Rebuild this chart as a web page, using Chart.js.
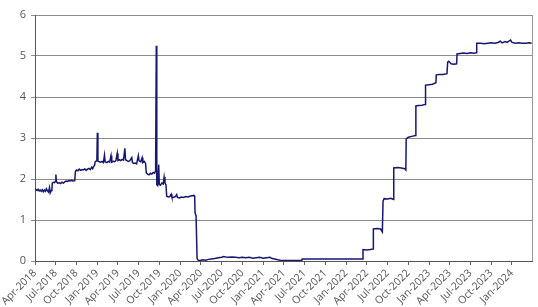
<!doctype html>
<html lang="en">
<head>
  <meta charset="utf-8">
  <title>Rate chart</title>
  <style>
    html, body { margin: 0; padding: 0; background: #fff; }
    #chart { display: block; }
  </style>
</head>
<body>
  <canvas id="chart" width="538" height="307"></canvas>

  <script src="https://cdn.jsdelivr.net/npm/chart.js"></script>
  <script>
    // x values are months counted from Apr-2018 (0 = 1 Apr 2018)
    const months = [
      0, 0.15, 0.3, 0.45, 0.6, 0.75, 0.9, 1.05, 1.2, 1.35, 1.5, 1.65, 1.8, 1.95, 2.1, 2.2, 2.35, 2.45,
      2.5, 2.65, 2.8, 2.95, 3.02, 3.1, 3.3, 3.5, 3.7, 3.9, 4.1, 4.3, 4.5, 4.7, 4.9, 5.1, 5.3, 5.5, 5.75,
      5.85, 6.0, 6.2, 6.4, 6.6, 6.8, 7.0, 7.2, 7.4, 7.6, 7.8, 8.0, 8.2, 8.35, 8.5, 8.62,
      8.7, 8.85, 8.95, 9.02, 9.1, 9.3, 9.5, 9.7, 9.9, 10.05, 10.15, 10.4, 10.6, 10.8, 11.0, 11.1,
      11.3, 11.5, 11.7, 11.9, 12.0, 12.2, 12.4, 12.6, 12.8, 13.0, 13.1, 13.3, 13.5, 13.7, 14.0, 14.1,
      14.3, 14.5, 14.7, 14.95, 15.05, 15.3, 15.5, 15.6, 15.8, 16.0,
      16.1, 16.3, 16.5, 16.7, 16.9, 17.1, 17.3, 17.45, 17.55, 17.62, 17.75, 17.9, 17.98, 18.15, 18.35,
      18.55, 18.68, 18.8, 18.95,
      19.05, 19.3, 19.5, 19.7, 19.8, 20.0, 20.3, 20.5, 20.6, 20.9, 21.2, 21.5, 21.8, 22.1, 22.4, 22.7,
      23.0, 23.1, 23.15, 23.3,
      23.45, 23.6, 23.9, 24.3, 24.7, 25.1, 25.5, 26.0, 26.5, 27.0, 27.3, 27.6, 28.0, 28.5, 29.0, 29.5,
      30.0, 30.5, 31.0, 31.5, 32.0, 32.5, 33.0, 33.5, 34.0, 34.3, 34.7, 35.1, 35.5, 36.0, 37.0, 38.0, 38.6,
      38.65, 40.0, 42.0, 44.0, 46.0, 47.4,
      47.45, 48.0, 48.5, 48.9, 48.95, 49.5, 50.0, 50.25,
      50.35, 50.5, 51.0, 51.5, 51.85, 51.9, 52.5, 53.0, 53.5, 53.65,
      53.7, 54.0, 54.5, 55.05, 55.1, 55.5, 56.0, 56.45, 56.5, 57.0, 57.5, 58.0,
      58.05, 58.5, 59.0, 59.6, 59.7, 59.85, 60.2, 60.6, 61.0,
      61.05, 61.5, 62.0, 62.5, 63.0, 63.5, 63.85,
      63.9, 64.5, 65.0, 65.5, 66.0, 66.5, 67.0, 67.3, 67.6, 68.0, 68.3, 68.8, 69.0, 69.5, 70.0, 70.5,
      71.0, 71.5, 71.85
    ];

    const rates = [
      1.77, 1.74, 1.72, 1.75, 1.71, 1.73, 1.70, 1.74, 1.69, 1.73, 1.70, 1.76, 1.71, 1.68, 1.79, 1.66, 1.72, 1.75,
      1.90, 1.92, 1.91, 1.94, 2.11, 1.93, 1.90, 1.91, 1.89, 1.92, 1.90, 1.93, 1.95, 1.94, 1.96, 1.95, 1.97, 1.95, 1.96,
      2.19, 2.22, 2.20, 2.24, 2.21, 2.23, 2.22, 2.25, 2.21, 2.24, 2.26, 2.23, 2.29, 2.25, 2.31, 2.33,
      2.42, 2.44, 2.45, 3.13, 2.44, 2.42, 2.41, 2.43, 2.40, 2.58, 2.42, 2.40, 2.43, 2.41, 2.57, 2.41,
      2.43, 2.42, 2.45, 2.63, 2.45, 2.47, 2.45, 2.48, 2.46, 2.75, 2.47, 2.45, 2.43, 2.44, 2.52, 2.40,
      2.38, 2.39, 2.37, 2.57, 2.45, 2.42, 2.52, 2.40, 2.43, 2.38,
      2.15, 2.12, 2.10, 2.14, 2.12, 2.16, 2.14, 2.20, 5.25, 1.86, 1.84, 2.35, 1.87, 1.85, 1.90,
      1.88, 2.05, 1.90, 1.86,
      1.58, 1.56, 1.57, 1.63, 1.56, 1.55, 1.57, 1.62, 1.55, 1.54, 1.56, 1.55, 1.57, 1.56, 1.58, 1.59,
      1.60, 1.58, 1.18, 1.10,
      0.06, 0.02, 0.01, 0.03, 0.02, 0.04, 0.05, 0.06, 0.08, 0.09, 0.11, 0.10, 0.09, 0.10, 0.09, 0.08,
      0.09, 0.08, 0.09, 0.07, 0.08, 0.09, 0.07, 0.08, 0.09, 0.06, 0.05, 0.03, 0.02, 0.01, 0.01, 0.01, 0.01,
      0.05, 0.05, 0.05, 0.05, 0.05, 0.05,
      0.28, 0.27, 0.28, 0.29, 0.78, 0.79, 0.78, 0.71,
      1.46, 1.52, 1.51, 1.53, 1.50, 2.27, 2.28, 2.27, 2.25, 2.22,
      2.98, 3.02, 3.04, 3.06, 3.78, 3.79, 3.80, 3.82, 4.29, 4.30, 4.31, 4.35,
      4.54, 4.55, 4.55, 4.57, 4.85, 4.87, 4.81, 4.80, 4.81,
      5.05, 5.06, 5.07, 5.06, 5.08, 5.07, 5.08,
      5.31, 5.31, 5.30, 5.31, 5.32, 5.31, 5.33, 5.36, 5.32, 5.35, 5.33, 5.39, 5.33, 5.31, 5.32, 5.31,
      5.31, 5.32, 5.31
    ];

    const tickMonths = [0, 3, 6, 9, 12, 15, 18, 21, 24, 27, 30, 33, 36, 39, 42, 45, 48, 51, 54, 57, 60, 63, 66, 69];
    const tickLabels = [
      'Apr-2018', 'Jul-2018', 'Oct-2018', 'Jan-2019', 'Apr-2019', 'Jul-2019', 'Oct-2019', 'Jan-2020',
      'Apr-2020', 'Jul-2020', 'Oct-2020', 'Jan-2021', 'Apr-2021', 'Jul-2021', 'Oct-2021', 'Jan-2022',
      'Apr-2022', 'Jul-2022', 'Oct-2022', 'Jan-2023', 'Apr-2023', 'Jul-2023', 'Oct-2023', 'Jan-2024'
    ];

    const points = months.map((m, i) => ({ x: m, y: rates[i] }));

    // plot frame on the right hand side
    const rightBorder = {
      id: 'rightBorder',
      afterDraw(chart) {
        const area = chart.chartArea;
        const ctx = chart.ctx;
        ctx.save();
        ctx.strokeStyle = '#9a9a9a';
        ctx.lineWidth = 1;
        ctx.beginPath();
        ctx.moveTo(Math.round(area.right) + 0.5, area.top);
        ctx.lineTo(Math.round(area.right) + 0.5, area.bottom);
        ctx.stroke();
        ctx.restore();
      }
    };

    new Chart(document.getElementById('chart'), {
      type: 'line',
      data: {
        datasets: [{
          data: points,
          borderColor: '#17176f',
          borderWidth: 1.5,
          pointRadius: 0,
          tension: 0,
          fill: false
        }]
      },
      options: {
        responsive: false,
        animation: false,
        layout: { padding: { top: 15, right: 6, left: 0, bottom: 0 } },
        plugins: {
          legend: { display: false },
          tooltip: { enabled: false }
        },
        scales: {
          x: {
            type: 'linear',
            min: 0,
            max: 71.9,
            afterBuildTicks: (scale) => {
              scale.ticks = tickMonths.map(v => ({ value: v }));
            },
            afterFit: (scale) => { scale.height = 46; },
            ticks: {
              autoSkip: false,
              minRotation: 45,
              maxRotation: 45,
              padding: 2,
              color: '#555',
              font: { family: 'Open Sans', size: 10.5 },
              callback: (value) => tickLabels[tickMonths.indexOf(value)]
            },
            grid: {
              drawOnChartArea: false,
              drawTicks: true,
              tickLength: 4,
              color: '#666'
            },
            border: { color: '#555', width: 1 }
          },
          y: {
            min: 0,
            max: 6,
            afterFit: (scale) => { scale.width = 35; },
            ticks: {
              stepSize: 1,
              padding: 5,
              color: '#555',
              font: { family: 'Open Sans', size: 11 }
            },
            grid: {
              color: '#8c8c8c',
              tickLength: 4
            },
            border: { color: '#555', width: 1 }
          }
        }
      },
      plugins: [rightBorder]
    });
  </script>
</body>
</html>
